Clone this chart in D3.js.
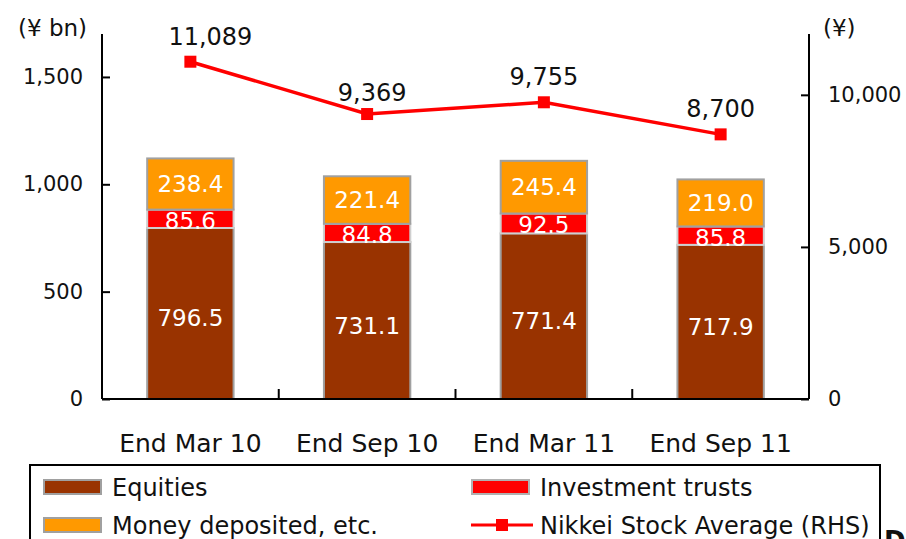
<!DOCTYPE html>
<html><head><meta charset="utf-8">
<script src="https://cdn.jsdelivr.net/npm/d3@7"></script>
<style>body{margin:0;background:#fff}svg{display:block}text{font-family:"DejaVu Sans",sans-serif}</style>
</head><body><svg id="c" width="906" height="539"></svg>
<script>
const categories = ["End Mar 10","End Sep 10","End Mar 11","End Sep 11"];
const equities = [796.5, 731.1, 771.4, 717.9];
const investmentTrusts = [85.6, 84.8, 92.5, 85.8];
const moneyDeposited = [238.4, 221.4, 245.4, 219.0];
const nikkei = [11089, 9369, 9755, 8700];
const leftTicks = [0, 500, 1000, 1500];
const rightTicks = [0, 5000, 10000];
const seriesNames = ["Equities","Investment trusts","Money deposited, etc."];

const svg = d3.select("#c");
const L = 102, R = 809, T = 34, B = 399;
const x = d3.scaleBand().domain(categories).range([L, R]).paddingInner(0.5).paddingOuter(0.25);
const y = d3.scaleLinear().domain([0, 1700]).range([B, T]);
const y2 = d3.scaleLinear().domain([0, 12000]).range([B, T]);
const fmt = d3.format(",");
const colors = ["#993300", "#FF0000", "#FF9900"];
const strokes = ["#a0a0a0", "#cfcfcf", "#a0a0a0"];
const ink = "#111";

// stacked bars
const rows = categories.map((c, i) => ({cat: c, e: equities[i], t: investmentTrusts[i], m: moneyDeposited[i]}));
const stack = d3.stack().keys(["e", "t", "m"])(rows);
stack.forEach((layer, k) => {
  svg.append("g").selectAll("rect").data(layer).join("rect")
    .attr("x", d => x(d.data.cat) + 1)
    .attr("width", x.bandwidth() - 2)
    .attr("y", d => y(d[1]))
    .attr("height", d => y(d[0]) - y(d[1]))
    .attr("fill", colors[k])
    .attr("stroke", strokes[k])
    .attr("stroke-width", 2);
});
stack.forEach((layer, k) => {
  svg.append("g").selectAll("text").data(layer).join("text")
    .attr("x", d => x(d.data.cat) + x.bandwidth() / 2)
    .attr("y", d => (y(d[0]) + y(d[1])) / 2 + (k === 0 ? 5 : k === 1 ? 2 : 0))
    .attr("text-anchor", "middle")
    .attr("dominant-baseline", "central")
    .attr("fill", "#fff")
    .attr("font-size", 23)
    .text(d => (d[1] - d[0]).toFixed(1));
});

// axes
const axL = svg.append("g").attr("transform", `translate(${L},0)`)
  .call(d3.axisRight(y).tickValues(leftTicks).tickSize(8).tickFormat(""));
const axR = svg.append("g").attr("transform", `translate(${R},0)`)
  .call(d3.axisLeft(y2).tickValues(rightTicks).tickSize(8).tickFormat(""));
[axL, axR].forEach(a => {
  a.select(".domain").attr("stroke", "#000").attr("stroke-width", 2).attr("d", `M0,${T}V${B}`);
  a.selectAll(".tick line").attr("stroke", "#000").attr("stroke-width", 2);
});

svg.append("g").selectAll("text").data(leftTicks).join("text")
  .attr("x", 83).attr("y", d => y(d)).attr("text-anchor", "end")
  .attr("dominant-baseline", "central").attr("font-size", 21).attr("fill", ink)
  .text(d => fmt(d));
svg.append("g").selectAll("text").data(rightTicks).join("text")
  .attr("x", 828).attr("y", d => y2(d)).attr("text-anchor", "start")
  .attr("dominant-baseline", "central").attr("font-size", 21).attr("fill", ink)
  .text(d => fmt(d));

// x axis
svg.append("line").attr("x1", L).attr("x2", R).attr("y1", B).attr("y2", B)
  .attr("stroke", "#000").attr("stroke-width", 2);
const step = x.step();
svg.append("g").selectAll("line").data(categories.slice(1)).join("line")
  .attr("x1", d => x(d) - step * 0.25).attr("x2", d => x(d) - step * 0.25)
  .attr("y1", B).attr("y2", B - 10).attr("stroke", "#000").attr("stroke-width", 2);
svg.append("g").selectAll("text").data(categories).join("text")
  .attr("x", d => x(d) + x.bandwidth() / 2).attr("y", 452)
  .attr("text-anchor", "middle").attr("font-size", 25).attr("fill", ink)
  .text(d => d);

svg.append("text").attr("x", 18).attr("y", 36).attr("font-size", 23).attr("fill", ink).text("(¥ bn)");
svg.append("text").attr("x", 823).attr("y", 36).attr("font-size", 23).attr("fill", ink).text("(¥)");

// line
const cx = d => x(d) + x.bandwidth() / 2;
const pts = categories.map((c, i) => [cx(c), y2(nikkei[i])]);
svg.append("path").attr("d", d3.line()(pts)).attr("fill", "none")
  .attr("stroke", "#FF0000").attr("stroke-width", 3.5);
svg.append("g").selectAll("rect").data(pts).join("rect")
  .attr("x", d => d[0] - 6).attr("y", d => d[1] - 6).attr("width", 12).attr("height", 12)
  .attr("fill", "#FF0000");
svg.append("g").selectAll("text").data(pts).join("text")
  .attr("x", (d, i) => d[0] + (i === 0 ? 20 : i === 1 ? 5 : 0))
  .attr("y", (d, i) => d[1] - (i === 1 ? 13 : 17))
  .attr("text-anchor", "middle").attr("font-size", 24).attr("fill", ink)
  .text((d, i) => fmt(nikkei[i]));

// legend
svg.append("rect").attr("x", 30).attr("y", 465).attr("width", 850).attr("height", 100)
  .attr("fill", "none").attr("stroke", "#000").attr("stroke-width", 2);
const leg = [
  {n: seriesNames[0], c: colors[0], s: strokes[0], x: 43, y: 487},
  {n: seriesNames[1], c: colors[1], s: "#b0b0b0", x: 471, y: 487},
  {n: seriesNames[2], c: colors[2], s: strokes[2], x: 43, y: 525}
];
leg.forEach(l => {
  svg.append("rect").attr("x", l.x + 1).attr("y", l.y - 7).attr("width", 57).attr("height", 14)
    .attr("fill", l.c).attr("stroke", l.s).attr("stroke-width", 2);
  svg.append("text").attr("x", l.x + 69).attr("y", l.y + 9)
    .attr("font-size", 24).attr("fill", ink).text(l.n);
});
svg.append("line").attr("x1", 471).attr("x2", 533).attr("y1", 525).attr("y2", 525)
  .attr("stroke", "#FF0000").attr("stroke-width", 3);
svg.append("rect").attr("x", 496).attr("y", 519).attr("width", 12).attr("height", 12).attr("fill", "#FF0000");
svg.append("text").attr("x", 540).attr("y", 534)
  .attr("font-size", 24).attr("fill", ink).text("Nikkei Stock Average (RHS)");
svg.append("text").attr("x", 884).attr("y", 550).attr("font-size", 26).attr("font-weight", "bold")
  .attr("fill", ink).text("D");
</script></body></html>
